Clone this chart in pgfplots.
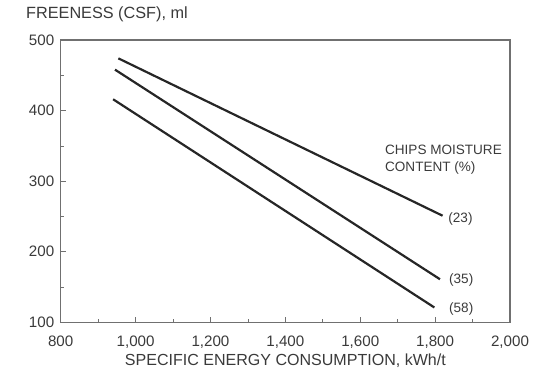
\documentclass[border=0pt]{standalone}
\usepackage{fontspec}
\setmainfont{Liberation Sans}
\usepackage{pgfplots}
\pgfplotsset{compat=1.18}
\definecolor{txt}{HTML}{3A3A3A}
\definecolor{ln}{HTML}{262626}
\definecolor{ax}{HTML}{707070}
\begin{document}
\begin{tikzpicture}
\begin{axis}[
  name=ax,
  scale only axis,
  width=449.3bp, height=282.3bp,
  xmin=800, xmax=2000, ymin=100, ymax=500,
  xtick={800,1000,...,2000}, ytick={100,200,...,500},
  minor x tick num=1, minor y tick num=1,
  tick align=inside, xtick pos=bottom, ytick pos=left,
  major tick length=5bp, minor tick length=3bp,
  every tick/.style={ax, line width=0.6bp},
  axis line style={ax, line width=1.1bp},
  /pgf/number format/assume math mode=true,
  /pgf/number format/1000 sep={,},
  ticklabel style={font=\fontsize{15.2}{18}\selectfont, text=txt},
  yticklabel style={xshift=-3bp},
  xticklabel style={yshift=-10bp},
  xlabel={SPECIFIC ENERGY CONSUMPTION, kWh/t},
  xlabel style={font=\fontsize{16.1}{18}\selectfont, text=txt, yshift=1bp},
  clip=false,
]
\addplot[ln, line width=2.2bp] coordinates {(954,474) (1820,251)};
\addplot[ln, line width=2.2bp] coordinates {(945,458) (1813,161)};
\addplot[ln, line width=2.2bp] coordinates {(940,416) (1798,121)};
\node[anchor=west, text=txt, font=\fontsize{13.6}{16}\selectfont, inner sep=0pt] at (axis cs:1835,246) {(23)};
\node[anchor=west, text=txt, font=\fontsize{13.6}{16}\selectfont, inner sep=0pt] at (axis cs:1837,160) {(35)};
\node[anchor=west, text=txt, font=\fontsize{13.6}{16}\selectfont, inner sep=0pt] at (axis cs:1837,118.5) {(58)};
\node[anchor=west, text=txt, font=\fontsize{13.6}{16}\selectfont, inner sep=0pt] at (axis cs:1666,345) {CHIPS MOISTURE};
\node[anchor=west, text=txt, font=\fontsize{13.6}{16}\selectfont, inner sep=0pt] at (axis cs:1666,318) {CONTENT (\%)};
\end{axis}
\node[anchor=west, text=txt, font=\fontsize{16.3}{18}\selectfont, inner sep=0pt] at ([xshift=-34.7bp, yshift=25.3bp]ax.north west) {FREENESS (CSF), ml};
\path[use as bounding box] ([xshift=-60.7bp, yshift=-49.7bp]ax.south west) rectangle ([xshift=472.3bp, yshift=322.3bp]ax.south west);
\end{tikzpicture}
\end{document}
